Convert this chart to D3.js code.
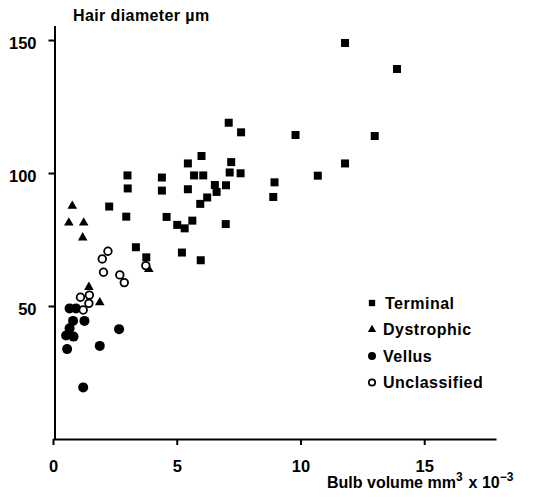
<!DOCTYPE html>
<html>
<head>
<meta charset="utf-8">
<script src="https://cdnjs.cloudflare.com/ajax/libs/d3/7.8.5/d3.min.js"></script>
<style>
  body { margin: 0; background: #fff; }
  text { font-family: "Liberation Sans", Arial, sans-serif; font-weight: bold; fill: #000; }
</style>
</head>
<body>
<div id="chart"></div>
<script>
// bulb volume (mm3 x 10^-3) vs hair diameter (um)
var terminalX = [11.8, 13.9, 9.8, 13.0, 11.8, 10.7, 8.95, 8.9, 7.1, 7.6, 6.0, 5.45, 7.2, 4.4, 5.7, 6.07, 7.14, 7.58, 4.4, 5.45,
                 6.54, 6.99, 6.61, 6.23, 5.95, 4.59, 5.02, 5.32, 5.63, 6.98, 5.21, 5.97, 3.01, 3.02, 2.27, 2.96, 3.35, 3.77];
var terminalY = [148.9, 139.1, 114.3, 113.9, 103.6, 99.0, 96.5, 91.0, 118.9, 115.3, 106.4, 103.6, 104.1, 98.3, 99.1, 99.1, 100.2, 99.9, 93.4, 93.9,
                 95.5, 95.4, 92.9, 90.8, 88.4, 83.5, 80.5, 79.2, 82.1, 80.8, 70.1, 67.2, 99.1, 94.2, 87.4, 83.6, 72.1, 68.3];

var dystrophicX = [0.78, 0.64, 1.24, 1.20, 3.87, 1.45, 1.89];
var dystrophicY = [87.6, 81.3, 81.3, 75.7, 63.8, 57.1, 51.3];

var vellusX = [0.67, 0.93, 0.81, 1.27, 0.67, 0.53, 0.83, 0.57, 1.89, 2.67, 1.22];
var vellusY = [49.1, 49.1, 44.4, 44.4, 41.6, 38.9, 38.5, 33.8, 35.0, 41.3, 19.4];

var unclassX = [2.22, 1.99, 2.04, 2.70, 2.88, 3.75, 1.11, 1.47, 1.45, 1.22];
var unclassY = [70.6, 67.7, 62.7, 61.7, 58.8, 65.2, 53.3, 54.1, 51.0, 48.5];

var xTicks = [0, 5, 10, 15];
var yTicks = [50, 100, 150];
var legendLabels = ["Terminal", "Dystrophic", "Vellus", "Unclassified"];

var width = 553, height = 504;

var svg = d3.select("#chart").append("svg")
    .attr("width", width)
    .attr("height", height);

var xScale = d3.scaleLinear().domain([0, 17.9]).range([53, 496]);
var yScale = d3.scaleLinear().domain([0, 155.5]).range([439, 25.4]);

// axes
var xAxis = svg.append("g")
    .attr("transform", "translate(0," + yScale(0) + ")")
    .call(d3.axisBottom(xScale).tickValues(xTicks).tickSize(6).tickSizeOuter(0).tickPadding(15));

var yAxis = svg.append("g")
    .attr("transform", "translate(" + (xScale(0) + 1.5) + ",0)")
    .call(d3.axisLeft(yScale).tickValues(yTicks).tickSize(6).tickSizeOuter(0).tickPadding(12));

[xAxis, yAxis].forEach(function(ax){
    ax.select(".domain").attr("stroke", "#000").attr("stroke-width", 2);
    ax.selectAll(".tick line").attr("stroke", "#000").attr("stroke-width", 2);
    ax.selectAll(".tick text")
        .attr("font-family", "Liberation Sans, Arial, sans-serif")
        .attr("font-weight", "bold")
        .attr("font-size", 16.5)
        .attr("fill", "#000");
});
yAxis.selectAll(".tick text").attr("dy", "0.5em");

// axis titles
svg.append("text")
    .attr("x", 73).attr("y", 21)
    .attr("font-size", 16)
    .attr("letter-spacing", 0.4)
    .text("Hair diameter µm");

var xt = svg.append("text")
    .attr("x", 327).attr("y", 488)
    .attr("font-size", 16);
xt.append("tspan").text("Bulb volume mm");
xt.append("tspan").attr("dy", -7).attr("font-size", 12).text("3");
xt.append("tspan").attr("dy", 7).attr("dx", 6).text("x 10");
xt.append("tspan").attr("dy", -7).attr("font-size", 12).text("−3");

// marker shapes
var sqPath = d3.symbol().type(d3.symbolSquare).size(64);
var triPath = d3.symbol().type(d3.symbolTriangle).size(40);

function plot(xs, ys, draw){
    var pts = xs.map(function(x, i){ return [x, ys[i]]; });
    draw(svg.append("g").selectAll("g").data(pts).enter());
}

plot(terminalX, terminalY, function(sel){
    sel.append("path")
        .attr("d", sqPath)
        .attr("transform", function(d){ return "translate(" + xScale(d[0]) + "," + yScale(d[1]) + ")"; })
        .attr("fill", "#000");
});

plot(dystrophicX, dystrophicY, function(sel){
    sel.append("path")
        .attr("d", triPath)
        .attr("transform", function(d){ return "translate(" + xScale(d[0]) + "," + yScale(d[1]) + ")"; })
        .attr("fill", "#000");
});

plot(vellusX, vellusY, function(sel){
    sel.append("circle")
        .attr("cx", function(d){ return xScale(d[0]); })
        .attr("cy", function(d){ return yScale(d[1]); })
        .attr("r", 5)
        .attr("fill", "#000");
});

plot(unclassX, unclassY, function(sel){
    sel.append("circle")
        .attr("cx", function(d){ return xScale(d[0]); })
        .attr("cy", function(d){ return yScale(d[1]); })
        .attr("r", 3.8)
        .attr("fill", "#fff")
        .attr("stroke", "#000")
        .attr("stroke-width", 1.8);
});

// legend
var legend = svg.append("g").attr("transform", "translate(372,303)");
var rows = legend.selectAll("g").data(legendLabels).enter().append("g")
    .attr("transform", function(d, i){ return "translate(0," + (i * 26.5) + ")"; });

rows.each(function(d, i){
    var g = d3.select(this);
    if (i == 0) g.append("path").attr("d", d3.symbol().type(d3.symbolSquare).size(40)).attr("fill", "#000");
    if (i == 1) g.append("path").attr("d", d3.symbol().type(d3.symbolTriangle).size(30)).attr("fill", "#000");
    if (i == 2) g.append("circle").attr("r", 4).attr("fill", "#000");
    if (i == 3) g.append("circle").attr("r", 3.2).attr("fill", "#fff").attr("stroke", "#000").attr("stroke-width", 1.7);
    g.append("text")
        .attr("x", i == 0 ? 13 : 11)
        .attr("y", 5.5)
        .attr("font-size", 16)
        .attr("letter-spacing", 0.5)
        .text(d);
});
</script>
</body>
</html>
